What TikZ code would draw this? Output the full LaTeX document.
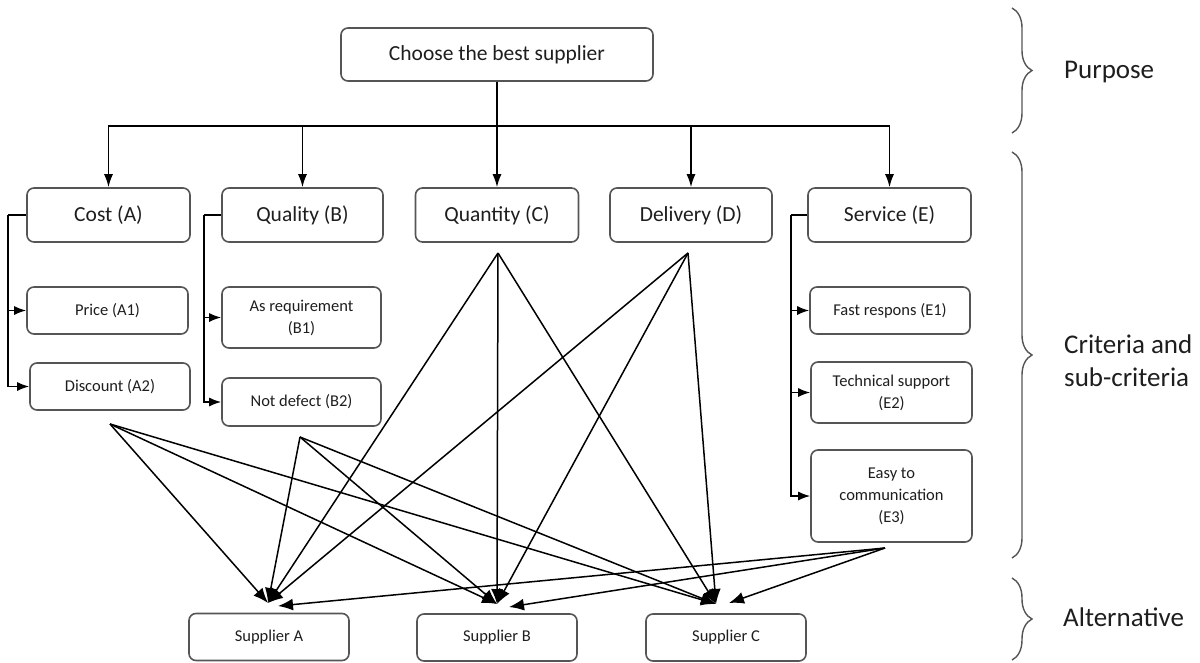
\documentclass[tikz,border=0pt]{standalone}
\usepackage{fontspec}
\setmainfont{Carlito}
\usetikzlibrary{arrows.meta,decorations.pathreplacing,calc}
\definecolor{boxgray}{HTML}{555555}
\definecolor{txt}{HTML}{1E1E1E}
\begin{document}
\begin{tikzpicture}[x=1pt,y=-1pt,
  box/.style={draw=boxgray, line width=1.6pt, rounded corners=7pt, align=center, text=txt, inner sep=0pt},
  big/.style={box, font=\fontsize{21.5}{25}\selectfont, minimum height=54pt},
  small/.style={box, font=\fontsize{16.5}{22}\selectfont},
  side/.style={font=\fontsize{27}{33}\selectfont, text=txt, anchor=west, align=left, inner sep=0pt},
  conn/.style={line width=1.5pt, draw=black},
  arr/.style={conn, -{Latex[length=13pt,width=9pt]}},
  sarr/.style={conn, -{Latex[length=12pt,width=9pt]}},
  barr/.style={conn, -{Latex[length=15pt,width=12pt]}},
  bracestyle/.style={draw=boxgray, line width=1.4pt, decorate, decoration={brace, amplitude=20pt, aspect=0.5}}
]
\useasboundingbox (0,0) rectangle (1200,662);

% Purpose
\node[big, minimum width=312pt, minimum height=53pt] (top) at (497,54.5) {Choose the best supplier};

% Criteria
\node[big, minimum width=163pt] (cost) at (108.5,215) {Cost (A)};
\node[big, minimum width=161pt] (quality) at (302.5,215) {Quality (B)};
\node[big, minimum width=163pt] (quantity) at (497,215) {Quantity (C)};
\node[big, minimum width=162pt] (delivery) at (691,215) {Delivery (D)};
\node[big, minimum width=163pt] (service) at (889.5,215) {Service (E)};

% Sub-criteria
\node[small, minimum width=161pt, minimum height=47pt] (A1) at (107.5,310.5) {Price (A1)};
\node[small, minimum width=160pt, minimum height=47pt] (A2) at (110,386.5) {Discount (A2)};
\node[small, minimum width=159pt, minimum height=61pt] (B1) at (301.5,317.5) {As requirement\\(B1)};
\node[small, minimum width=159pt, minimum height=48pt] (B2) at (301.5,402) {Not defect (B2)};
\node[small, minimum width=160pt, minimum height=47pt] (E1) at (890,310.5) {Fast respons (E1)};
\node[small, minimum width=161pt, minimum height=61pt] (E2) at (891.5,392.5) {Technical support\\(E2)};
\node[small, minimum width=161pt, minimum height=92pt] (E3) at (891.5,496) {Easy to\\communication\\(E3)};

% Alternatives
\node[small, minimum width=160pt, minimum height=47pt] (SA) at (269,637) {Supplier A};
\node[small, minimum width=160pt, minimum height=47pt] (SB) at (497,637.5) {Supplier B};
\node[small, minimum width=160pt, minimum height=47pt] (SC) at (726,637.5) {Supplier C};

% Top connectors
\path (top.south) ++(0,44) coordinate (bus);
\draw[arr] (top.south) -- (quantity.north);
\draw[arr] (bus) -| (cost.north);
\draw[arr] (bus) -| (quality.north);
\draw[arr] (bus) -| (delivery.north);
\draw[arr] (bus) -| (service.north);

% Side connectors
\draw[conn] (cost.west) -- ++(-18,0) coordinate (cl);
\draw[sarr] (cl) |- (A1.west);
\draw[sarr] (cl) |- (A2.west);
\draw[conn] (quality.west) -- ++(-17,0) coordinate (ql);
\draw[sarr] (ql) |- (B1.west);
\draw[sarr] (ql) |- (B2.west);
\draw[conn] (service.west) -- ++(-16,0) coordinate (sl);
\draw[sarr] (sl) |- (E1.west);
\draw[sarr] (sl) |- (E2.west);
\draw[sarr] (sl) |- (E3.west);

% Sources and targets of the alternative links
\coordinate (sA2) at (110,424);
\coordinate (sB2) at (300,437);
\coordinate (sC) at (498,253);
\coordinate (sD) at (688,253);
\coordinate (sE) at (885,548);
\coordinate (tA) at (268,603);
\coordinate (tB) at (497,604);
\coordinate (tC) at (716,604);
\coordinate (eA) at (278,606);
\coordinate (eB) at (509,607);
\coordinate (eC) at (729,603);

\foreach \s in {sA2,sB2,sC,sD}{
  \draw[barr] (\s) -- (tA);
  \draw[barr] (\s) -- (tB);
  \draw[barr] (\s) -- (tC);
}
\draw[barr] (sE) -- (eA);
\draw[barr] (sE) -- (eB);
\draw[barr] (sE) -- (eC);

% Braces and labels
\coordinate (b1t) at (1012,8);
\coordinate (b1b) at (1012,133);
\coordinate (b2t) at (1012,152);
\coordinate (b2b) at (1012,558);
\coordinate (b3t) at (1012,578);
\coordinate (b3b) at (1012,660);
\draw[bracestyle] (b1t) -- (b1b);
\draw[bracestyle] (b2t) -- (b2b);
\draw[bracestyle] (b3t) -- (b3b);

\node[side] (lp) at (1064,72) {Purpose};
\node[side] (lc) at (1064,361) {Criteria and\\sub-criteria};
\node[side] (la) at (1063,617) {Alternative};
\end{tikzpicture}
\end{document}
